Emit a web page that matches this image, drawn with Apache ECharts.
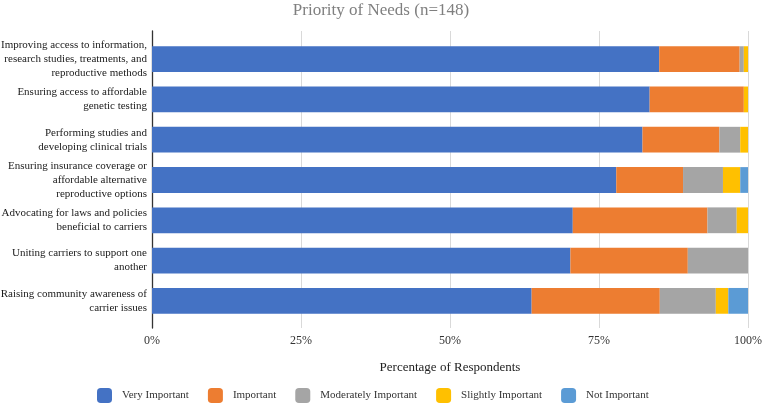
<!DOCTYPE html>
<html>
<head>
<meta charset="utf-8">
<script src="https://cdn.jsdelivr.net/npm/echarts@6/dist/echarts.min.js"></script>
<style>html,body{margin:0;padding:0;background:#fff;}#c{width:762px;height:406px;}</style>
</head>
<body>
<div id="c"></div>
<script>
const categories = [
  "Improving access to information,\nresearch studies, treatments, and\nreproductive methods",
  "Ensuring access to affordable\ngenetic testing",
  "Performing studies and\ndeveloping clinical trials",
  "Ensuring insurance coverage or\naffordable alternative\nreproductive options",
  "Advocating for laws and policies\nbeneficial to carriers",
  "Uniting carriers to support one\nanother",
  "Raising community awareness of\ncarrier issues"
];
const seriesNames = ["Very Important", "Important", "Moderately Important", "Slightly Important", "Not Important"];
const veryImportant = [85.1, 83.5, 82.3, 77.9, 70.6, 70.2, 63.7];
const important = [13.5, 15.8, 12.9, 11.2, 22.6, 19.7, 21.5];
const moderatelyImportant = [0.7, 0, 3.5, 6.7, 4.9, 10.1, 9.4];
const slightlyImportant = [0.7, 0.7, 1.3, 2.9, 1.9, 0, 2.1];
const notImportant = [0, 0, 0, 1.3, 0, 0, 3.3];
const xTicks = [0, 25, 50, 75, 100];

const colors = ["#4472C4", "#ED7D31", "#A5A5A5", "#FFC000", "#5B9BD5"];
const values = [veryImportant, important, moderatelyImportant, slightlyImportant, notImportant];
const font = "'Liberation Serif', 'Times New Roman', serif";

const chart = echarts.init(document.getElementById('c'), null, {renderer: 'canvas'});
chart.setOption({
  animation: false,
  color: colors,
  title: {
    text: "Priority of Needs (n=148)",
    left: 'center', top: 0, padding: [2, 5, 2, 5],
    textStyle: {fontFamily: font, fontSize: 17, fontWeight: 'normal', color: '#7f7f7f'}
  },
  legend: {
    data: seriesNames,
    left: 92, top: 383,
    itemWidth: 15, itemHeight: 15, itemGap: 19,
    icon: 'roundRect',
    textStyle: {fontFamily: font, fontSize: 11, color: '#333', padding: [0, 0, 0, 5]}
  },
  grid: [
    {left: 152, width: 596, top: 39, height: 282, containLabel: false, outerBoundsMode: 'none'},
    {left: 152, width: 596, top: 31, height: 297, containLabel: false, outerBoundsMode: 'none'}
  ],
  xAxis: [
    {gridIndex: 0, type: 'value', min: 0, max: 100, interval: 25, show: false},
    {gridIndex: 1, type: 'value', min: xTicks[0], max: xTicks[xTicks.length - 1], interval: 25,
     axisLine: {show: false}, axisTick: {show: false},
     splitLine: {show: true, lineStyle: {color: '#d9d9d9', width: 1}},
     axisLabel: {formatter: '{value}%', margin: 7, fontFamily: font, fontSize: 12, color: '#333'},
     name: "Percentage of Respondents", nameLocation: 'middle', nameGap: 33,
     nameTextStyle: {fontFamily: font, fontSize: 13, color: '#222'}}
  ],
  yAxis: [
    {gridIndex: 0, type: 'category', data: categories, inverse: true,
     axisLine: {show: false}, axisTick: {show: false}, splitLine: {show: false},
     axisLabel: {margin: 5, fontFamily: font, fontSize: 11, color: '#1a1a1a', lineHeight: 14, align: 'right'}},
    {gridIndex: 1, type: 'value', min: 0, max: 1,
     axisLine: {show: true, lineStyle: {color: '#333', width: 1.3}},
     axisTick: {show: false}, axisLabel: {show: false}, splitLine: {show: false}}
  ],
  series: seriesNames.map((name, i) => ({
    name: name, type: 'bar', stack: 'total',
    xAxisIndex: 0, yAxisIndex: 0,
    barCategoryGap: '36%',
    data: values[i],
    itemStyle: {color: colors[i]}
  }))
});
</script>
</body>
</html>
